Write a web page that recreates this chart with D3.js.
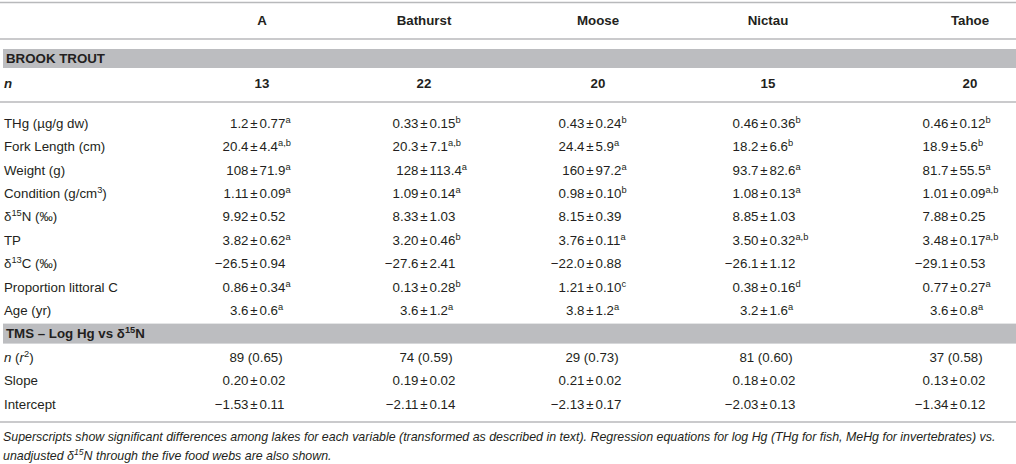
<!DOCTYPE html>
<html><head><meta charset="utf-8">
<script src="https://cdn.jsdelivr.net/npm/d3@7"></script>
<style>
html,body{margin:0;padding:0;background:#fff;}
svg{display:block;}
text{font-family:"Liberation Sans",Arial,Helvetica,sans-serif;fill:#231f20;}
</style></head>
<body>
<svg id="chart" width="1016" height="464"></svg>
<script>
// ---------- DATA ----------
const lakes = ["A","Bathurst","Moose","Nictau","Tahoe"];
const fishN = ["13","22","20","15","20"];

const rowLabels = ["THg (µg/g dw)","Fork Length (cm)","Weight (g)","Condition (g/cm^{3})",
  "δ^{15}N (‰)","TP","δ^{13}C (‰)","Proportion littoral C","Age (yr)"];

const thgMean = ["1.2","0.33","0.43","0.46","0.46"];
const thgSd   = ["0.77","0.15","0.24","0.36","0.12"];
const thgSup  = ["a","b","b","b","b"];

const forkMean = ["20.4","20.3","24.4","18.2","18.9"];
const forkSd   = ["4.4","7.1","5.9","6.6","5.6"];
const forkSup  = ["a,b","a,b","a","b","b"];

const weightMean = ["108","128","160","93.7","81.7"];
const weightSd   = ["71.9","113.4","97.2","82.6","55.5"];
const weightSup  = ["a","a","a","a","a"];

const condMean = ["1.11","1.09","0.98","1.08","1.01"];
const condSd   = ["0.09","0.14","0.10","0.13","0.09"];
const condSup  = ["a","a","b","a","a,b"];

const d15NMean = ["9.92","8.33","8.15","8.85","7.88"];
const d15NSd   = ["0.52","1.03","0.39","1.03","0.25"];
const d15NSup  = ["","","","",""];

const tpMean = ["3.82","3.20","3.76","3.50","3.48"];
const tpSd   = ["0.62","0.46","0.11","0.32","0.17"];
const tpSup  = ["a","b","a","a,b","a,b"];

const d13CMean = ["−26.5","−27.6","−22.0","−26.1","−29.1"];
const d13CSd   = ["0.94","2.41","0.88","1.12","0.53"];
const d13CSup  = ["","","","",""];

const propMean = ["0.86","0.13","1.21","0.38","0.77"];
const propSd   = ["0.34","0.28","0.10","0.16","0.27"];
const propSup  = ["a","b","c","d","a"];

const ageMean = ["3.6","3.6","3.8","3.2","3.6"];
const ageSd   = ["0.6","1.2","1.2","1.6","0.8"];
const ageSup  = ["a","a","a","a","a"];

const tmsLabels = ["*n* (*r*^{2})","Slope","Intercept"];
const tmsNr2 = ["89 (0.65)","74 (0.59)","29 (0.73)","81 (0.60)","37 (0.58)"];
const slopeMean = ["0.20","0.19","0.21","0.18","0.13"];
const slopeSd   = ["0.02","0.02","0.02","0.02","0.02"];
const interMean = ["−1.53","−2.11","−2.13","−2.03","−1.34"];
const interSd   = ["0.11","0.14","0.17","0.13","0.12"];

const section1 = "BROOK TROUT";
const section2 = "TMS – Log Hg vs δ^{15}N";
const captionLines = [
  "Superscripts show significant differences among lakes for each variable (transformed as described in text). Regression equations for log Hg (THg for fish, MeHg for invertebrates) vs.",
  "unadjusted δ^{15}N through the five food webs are also shown."
];

// ---------- LAYOUT ----------
const W = 1016, H = 464;
const FS = 13.3, SUP = 9.3;
const svg = d3.select("#chart");

const xVal  = d3.scaleOrdinal(lakes, [254, 424, 590, 764, 954]);
const xHead = d3.scaleOrdinal(lakes, [262, 424, 598, 768, 970]);
const yRow  = d3.scaleLinear([0, 1], [123, 146.4]);   // body rows by index
const base = c => c + 4.7;

// rich text helper: *italic*, ^{sup}
function rich(sel, str, opts = {}) {
  const parts = str.split(/(\*[^*]+\*|\^\{[^}]+\})/).filter(s => s.length);
  let raised = false;
  parts.forEach(p => {
    let t, txt, isSup = false, it = false;
    if (p.startsWith("^{")) { txt = p.slice(2, -1); isSup = true; }
    else if (p.startsWith("*")) { txt = p.slice(1, -1); it = true; }
    else txt = p;
    t = sel.append("tspan").text(txt);
    if (isSup) { t.attr("font-size", SUP * (opts.scale || 1)).attr("dy", -5 * (opts.scale || 1)); raised = true; }
    else if (raised) { t.attr("dy", 5 * (opts.scale || 1)); raised = false; }
    if (it) t.attr("font-style", "italic");
  });
}

// rules
const rules = [2.5, 39, 102, 422];
svg.selectAll("line.rule").data(rules).join("line")
  .attr("x1", 0).attr("x2", W).attr("y1", d => d).attr("y2", d => d)
  .attr("stroke", "#b8b9bb").attr("stroke-width", 1.6);

// grey section bands
const bands = [{y0: 49, y1: 68, label: section1}, {y0: yRow(9) - 10, y1: yRow(9) + 10, label: section2}];
svg.selectAll("rect.band").data(bands).join("rect")
  .attr("x", 3).attr("width", W - 3).attr("y", d => d.y0).attr("height", d => d.y1 - d.y0)
  .attr("fill", "#bcbdc0");
bands.forEach(b => {
  const t = svg.append("text").attr("x", 6).attr("y", base((b.y0 + b.y1) / 2))
    .attr("font-size", FS).attr("font-weight", "bold");
  rich(t, b.label);
});

// header row
svg.selectAll("text.head").data(lakes).join("text")
  .attr("x", d => xHead(d)).attr("y", base(20)).attr("text-anchor", "middle")
  .attr("font-size", FS).attr("font-weight", "bold").text(d => d);

// n row
svg.append("text").attr("x", 4).attr("y", base(83)).attr("font-size", FS)
  .attr("font-weight", "bold").attr("font-style", "italic").text("n");
svg.selectAll("text.n").data(lakes).join("text")
  .attr("x", d => xHead(d)).attr("y", base(83)).attr("text-anchor", "middle")
  .attr("font-size", FS).attr("font-weight", "bold").text((d, i) => fishN[i]);

// generic ± cell
function pmCell(lake, y, mean, sd, sup) {
  const x = xVal(lake);
  svg.append("text").attr("x", x - 5.5).attr("y", base(y)).attr("text-anchor", "end")
    .attr("font-size", FS).text(mean);
  svg.append("text").attr("x", x).attr("y", base(y)).attr("text-anchor", "middle")
    .attr("font-size", FS).text("±");
  const t = svg.append("text").attr("x", x + 5.5).attr("y", base(y)).attr("font-size", FS);
  t.append("tspan").text(sd);
  if (sup) t.append("tspan").attr("font-size", SUP).attr("dy", -5).text(sup);
}

const fishRows = [
  [thgMean, thgSd, thgSup], [forkMean, forkSd, forkSup], [weightMean, weightSd, weightSup],
  [condMean, condSd, condSup], [d15NMean, d15NSd, d15NSup], [tpMean, tpSd, tpSup],
  [d13CMean, d13CSd, d13CSup], [propMean, propSd, propSup], [ageMean, ageSd, ageSup]
];

fishRows.forEach((r, ri) => {
  const y = yRow(ri);
  const t = svg.append("text").attr("x", 4).attr("y", base(y)).attr("font-size", FS);
  rich(t, rowLabels[ri]);
  lakes.forEach((lake, i) => pmCell(lake, y, r[0][i], r[1][i], r[2][i]));
});

// TMS rows
tmsLabels.forEach((lab, k) => {
  const y = yRow(10 + k);
  const t = svg.append("text").attr("x", 4).attr("y", base(y)).attr("font-size", FS);
  rich(t, lab);
});
lakes.forEach((lake, i) => {
  svg.append("text").attr("x", xVal(lake) + 2).attr("y", base(yRow(10))).attr("text-anchor", "middle")
    .attr("font-size", FS).text(tmsNr2[i]);
  pmCell(lake, yRow(11), slopeMean[i], slopeSd[i], "");
  pmCell(lake, yRow(12), interMean[i], interSd[i], "");
});

// caption
captionLines.forEach((line, k) => {
  const t = svg.append("text").attr("x", 3).attr("y", [440.5, 460][k])
    .attr("font-size", 12.4).attr("font-style", "italic");
  rich(t, line, {scale: 0.93});
});
</script>
</body></html>
